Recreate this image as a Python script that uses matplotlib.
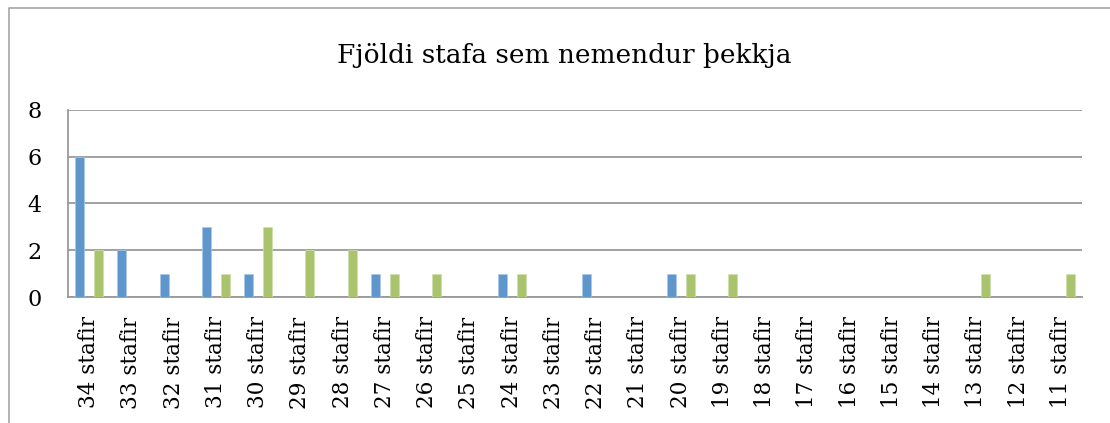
import numpy as np
import matplotlib.pyplot as plt
from matplotlib.lines import Line2D

# Gögn
categories = [f"{n} stafir" for n in range(34, 10, -1)]
blue_vals = [6, 2, 1, 3, 1, 0, 0, 1, 0, 0, 1, 0, 1, 0, 1, 0, 0, 0, 0, 0, 0, 0, 0, 0]
green_vals = [2, 0, 0, 1, 3, 2, 2, 1, 1, 0, 1, 0, 0, 0, 1, 1, 0, 0, 0, 0, 0, 1, 0, 1]
yticks = [0, 2, 4, 6, 8]
title = "Fjöldi stafa sem nemendur þekkja"

plt.rcParams['font.family'] = ['DejaVu Serif']

W, H = 1110, 423
fig = plt.figure(figsize=(W / 100, H / 100), dpi=100)

# ramminn utan um myndritið
fig.add_artist(Line2D([9 / W, 9 / W, 1.0], [0.0, 1 - 8 / H, 1 - 8 / H],
                      transform=fig.transFigure, color='#a6a6a6', lw=1.2))

ax = fig.add_axes([68 / W, 1 - 297 / H, (1082 - 68) / W, (297 - 110) / H])

x = np.arange(len(categories))
bw = 0.215
ax.bar(x - 0.225, blue_vals, bw, color='#5f96cc', edgecolor='#a9c8e8', linewidth=0.5, zorder=3)
ax.bar(x + 0.225, green_vals, bw, color='#a9c46c', edgecolor='#cfdfae', linewidth=0.5, zorder=3)

ax.set_xlim(-0.5, len(categories) - 0.5)
ax.set_ylim(0, 8)
ax.set_yticks(yticks)
ax.set_yticklabels([str(v) for v in yticks], fontsize=16)
ax.set_xticks(x)
ax.set_xticklabels(categories, rotation=90, fontsize=15.5)
ax.tick_params(axis='both', length=0)
ax.tick_params(axis='y', pad=19)
ax.tick_params(axis='x', pad=14)

ax.yaxis.grid(True, color='#9a9a9a', lw=1.3, zorder=0)
for s in ['top', 'right']:
    ax.spines[s].set_visible(False)
ax.spines['left'].set_color('#9a9a9a')
ax.spines['bottom'].set_color('#9a9a9a')
ax.spines['left'].set_linewidth(1.3)
ax.spines['bottom'].set_linewidth(1.3)

fig.text(0.508, 1 - 55 / H, title, ha='center', va='center', fontsize=19)

fig.savefig('out.png', dpi=100)
